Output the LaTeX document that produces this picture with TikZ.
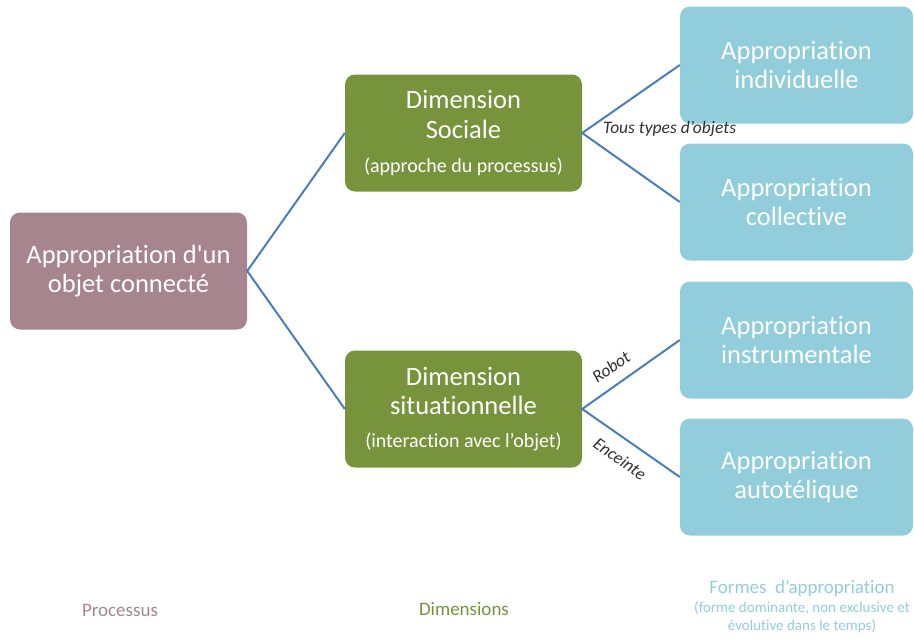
\documentclass[tikz,border=0pt]{standalone}
\usepackage{fontspec}
\setmainfont{Carlito}[Ligatures={TeX,NoCommon}]
\definecolor{mauve}{HTML}{A6858E}
\definecolor{vert}{HTML}{77933C}
\definecolor{bleuclair}{HTML}{92CDDC}
\definecolor{trait}{HTML}{4A7EBB}
\definecolor{etiq}{HTML}{303030}
\tikzset{
  boite/.style={rounded corners=10pt, minimum width=237pt, minimum height=117pt, text=white, align=center, inner sep=0pt, font=\fontsize{26.5}{29.5}\selectfont},
  racine/.style={boite, fill=mauve},
  dimbox/.style={boite, fill=vert},
  formbox/.style={boite, fill=bleuclair, minimum width=233pt},
  lien/.style={draw=trait, line width=2pt},
  etiquette/.style={text=etiq, font=\fontsize{17.5}{19}\selectfont\itshape, inner sep=0pt},
  legende/.style={font=\fontsize{19}{21}\selectfont, inner sep=0pt, align=center}
}
\newcommand{\petit}{\fontsize{20}{22}\selectfont}
\begin{document}
\begin{tikzpicture}[x=1pt,y=-1pt]
\useasboundingbox (0,0) rectangle (914,638);
\node[racine] (root) at (128.5,271) {Appropriation d\textquotesingle un\\objet connecté};
\node[dimbox] (soc) at (463.5,133) {Dimension\\Sociale\\[5pt]{\petit(approche du processus)}};
\node[dimbox] (sit) at (463.5,409) {Dimension\\situationnelle\\[3pt]{\petit(interaction avec l’objet)}};
\node[formbox] (ind) at (796.5,65) {Appropriation\\individuelle};
\node[formbox] (col) at (796.5,202) {Appropriation\\collective};
\node[formbox] (ins) at (796.5,340) {Appropriation\\instrumentale};
\node[formbox] (aut) at (796.5,477) {Appropriation\\autotélique};
\draw[lien] (soc.west) -- (root.east) -- (sit.west);
\draw[lien] (ind.west) -- (soc.east) -- (col.west);
\draw[lien] (ins.west) -- (sit.east) -- (aut.west);
\node[etiquette, anchor=west] (tous) at (603,129) {Tous types d’objets};
\node[etiquette, rotate=35] (robot) at (611,367) {Robot};
\node[etiquette, rotate=-35] (enc) at (620,459) {Enceinte};
\node[legende, text=mauve] (lp) at (120,610) {Processus};
\node[legende, text=vert] (ld) at (464,609) {Dimensions};
\node[legende, text=bleuclair, anchor=north] (lf) at (802,580) {Formes\ \ d’appropriation\\[-2pt]{\fontsize{15}{19}\selectfont (forme dominante, non exclusive et}\\[-3pt]{\fontsize{15}{19}\selectfont évolutive dans le temps)}};
\end{tikzpicture}
\end{document}
